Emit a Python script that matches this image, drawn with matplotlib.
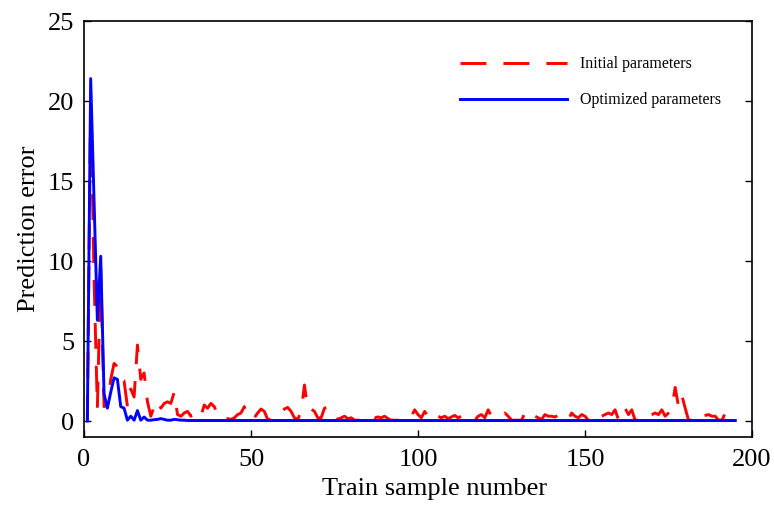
import matplotlib
matplotlib.use("Agg")
import matplotlib.pyplot as plt
import numpy as np

plt.rcParams['font.family'] = ['Liberation Serif', 'DejaVu Serif']
plt.rcParams['lines.scale_dashes'] = False

# Optimized parameters (blue), samples 1..195
blue_head = [0.0, 21.4, 13.8, 6.3, 10.3, 1.7, 0.8, 1.8, 2.7, 2.6,
             0.9, 0.8, 0.05, 0.3, 0.05, 0.65, 0.05, 0.25, 0.05, 0.05,
             0.08, 0.1, 0.15, 0.1, 0.05, 0.05, 0.1, 0.08, 0.05, 0.05]
blue_tail = [0.03] * 165
blue = blue_head + blue_tail

# Initial parameters (red), samples 1..193
red = [0.0, 20.5, 9.0, 0.8, 9.5, 0.9, 1.0, 2.6, 3.6, 3.4,
       2.6, 2.5, 0.9, 2.0, 1.5, 4.75, 2.6, 3.0, 1.2, 0.3,
       0.9, 1.3, 0.8, 1.1, 1.2, 1.1, 1.8, 0.4, 0.3, 0.5,
       0.6, 0.3, 0.4, 0.6, 0.3, 1.0, 0.8, 1.1, 0.9, 0.4,
       0.1, 0.1, 0.15, 0.1, 0.2, 0.4, 0.5, 0.9, 0.3, 0.1,
       0.2, 0.5, 0.75, 0.6, 0.1, 0.1, 0.15, 0.2, 0.5, 0.75,
       0.85, 0.6, 0.2, 0.1, 0.6, 2.25, 0.7, 0.75, 0.6, 0.2,
       0.2, 0.8, 0.9, 0.4, 0.3, 0.1, 0.2, 0.3, 0.15, 0.2,
       0.05, 0.05, 0.05, 0.05, 0.05, 0.3, 0.2, 0.25, 0.2, 0.3,
       0.15, 0.05, 0.05, 0.05, 0.05, 0.05, 0.05, 0.3, 0.7, 0.4,
       0.2, 0.6, 0.3, 0.2, 0.5, 0.3, 0.2, 0.3, 0.15, 0.25,
       0.35, 0.2, 0.3, 0.05, 0.05, 0.05, 0.05, 0.3, 0.4, 0.2,
       0.7, 0.3, 0.3, 0.2, 0.35, 0.5, 0.3, 0.05, 0.05, 0.05,
       0.05, 0.5, 0.2, 0.4, 0.3, 0.2, 0.1, 0.4, 0.3, 0.3,
       0.25, 0.35, 0.3, 0.05, 0.05, 0.5, 0.3, 0.2, 0.4, 0.3,
       0.05, 0.05, 0.05, 0.4, 0.3, 0.4, 0.5, 0.4, 0.7, 0.1,
       0.1, 0.8, 0.4, 0.7, 0.05, 0.05, 0.05, 0.4, 0.35, 0.4,
       0.5, 0.4, 0.7, 0.3, 0.5, 0.8, 2.1, 0.9, 1.6, 0.8,
       0.05, 0.05, 0.05, 0.4, 0.3, 0.35, 0.4, 0.3, 0.3, 0.05,
       0.05, 0.5, 0.05]

x_blue = np.arange(1, len(blue) + 1)
x_red = np.arange(1, len(red) + 1)

xticks = [0, 50, 100, 150, 200]
yticks = [0, 5, 10, 15, 20, 25]

fig = plt.figure(figsize=(7.74, 5.05), dpi=100)
ax = fig.add_axes([84/774, 1 - 437/505, (752-84)/774, (437-21)/505])

ax.plot(x_red, red, color='#ff0000', lw=2.1, linestyle=(0, (18.7, 12.2)),
        label='Initial parameters', zorder=2)
ax.plot(x_blue, blue, color='#0000ff', lw=2.1, label='Optimized parameters', zorder=3)

ax.set_xlim(0, 200)
ax.set_ylim(-1, 25)
ax.set_xticks(xticks)
ax.set_yticks(yticks)
ax.tick_params(direction='in', length=5, width=1, labelsize=19, right=True, top=False)
ax.tick_params(axis='x', pad=9)
ax.tick_params(axis='y', pad=7)
for s in ax.spines.values():
    s.set_linewidth(1.2)

ax.set_xlabel('Train sample number', fontsize=19)
ax.xaxis.set_label_coords(0.525, -0.098)
ax.set_ylabel('Prediction error', fontsize=19, labelpad=6)

ax.legend(loc='upper left', bbox_to_anchor=(0.563, 0.915), frameon=False,
          fontsize=11.5, handlelength=6.7, handletextpad=0.8, labelspacing=1.25,
          borderpad=0, borderaxespad=0)

fig.savefig('out.png', dpi=100)
